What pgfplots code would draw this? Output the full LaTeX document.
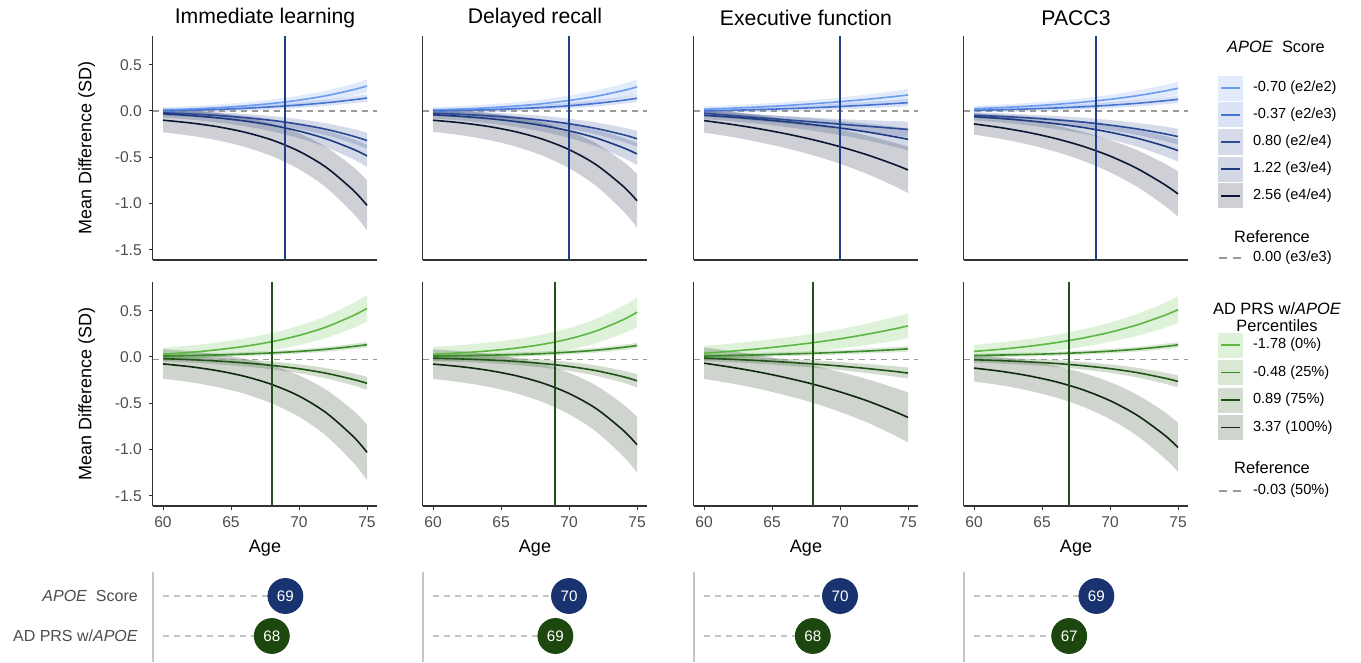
\documentclass[border=0pt]{standalone}
\usepackage{pgfplots}
\pgfplotsset{compat=1.18}
\usepackage{pgfplotstable}
\usepgfplotslibrary{fillbetween}
\usepackage{fontspec}
\setmainfont{Liberation Sans}

\definecolor{bA}{HTML}{6C9BF0}
\definecolor{bB}{HTML}{4672D2}
\definecolor{bC}{HTML}{2B4A93}
\definecolor{bD}{HTML}{1D3A80}
\definecolor{bE}{HTML}{0B1633}
\definecolor{gA}{HTML}{5CB842}
\definecolor{gB}{HTML}{3A8A2A}
\definecolor{gC}{HTML}{1F5416}
\definecolor{gD}{HTML}{0E290D}
\definecolor{vblue}{HTML}{1F3E8C}
\definecolor{vgreen}{HTML}{22521A}
\definecolor{dblue}{HTML}{18336F}
\definecolor{dgreen}{HTML}{1C470E}
\definecolor{ticktext}{HTML}{4D4D4D}
\definecolor{axisline}{HTML}{333333}
\definecolor{refgray}{HTML}{9A9A9A}
\definecolor{lgray}{HTML}{C4C4C4}

% APOE score: mean (m) and CI half-width (w) for each group
\pgfplotstableread{
age am aw bm bw cm cw dm dw em ew
60 0.010 0.030 0.000 0.025 -0.020 0.030 -0.030 0.040 -0.100 0.130
62 0.021 0.032 0.008 0.026 -0.032 0.033 -0.049 0.044 -0.129 0.138
64 0.035 0.035 0.017 0.027 -0.049 0.037 -0.074 0.050 -0.170 0.147
66 0.055 0.038 0.029 0.028 -0.072 0.041 -0.108 0.057 -0.229 0.159
68 0.081 0.043 0.045 0.030 -0.102 0.048 -0.154 0.066 -0.313 0.175
70 0.117 0.048 0.064 0.032 -0.143 0.055 -0.217 0.077 -0.435 0.194
72 0.165 0.056 0.089 0.035 -0.198 0.065 -0.301 0.091 -0.609 0.219
74 0.230 0.065 0.121 0.038 -0.273 0.078 -0.414 0.109 -0.858 0.251
75 0.270 0.070 0.140 0.040 -0.320 0.085 -0.485 0.120 -1.020 0.270
}\Tone
\pgfplotstableread{
age am aw bm bw cm cw dm dw em ew
60 0.010 0.030 0.000 0.025 -0.025 0.030 -0.040 0.040 -0.100 0.125
62 0.020 0.033 0.006 0.026 -0.036 0.033 -0.058 0.044 -0.127 0.134
64 0.034 0.036 0.013 0.027 -0.052 0.037 -0.081 0.050 -0.166 0.145
66 0.053 0.040 0.024 0.028 -0.072 0.041 -0.113 0.057 -0.222 0.159
68 0.078 0.046 0.037 0.030 -0.100 0.048 -0.156 0.066 -0.302 0.178
70 0.113 0.053 0.056 0.032 -0.138 0.055 -0.214 0.077 -0.417 0.201
72 0.159 0.062 0.082 0.035 -0.189 0.065 -0.292 0.091 -0.581 0.230
74 0.221 0.073 0.116 0.038 -0.257 0.078 -0.398 0.109 -0.816 0.268
75 0.260 0.080 0.137 0.040 -0.300 0.085 -0.464 0.120 -0.970 0.290
}\Ttwo
\pgfplotstableread{
age am aw bm bw cm cw dm dw em ew
60 0.018 0.030 0.000 0.025 -0.025 0.030 -0.047 0.040 -0.104 0.130
62 0.030 0.032 0.007 0.026 -0.048 0.033 -0.066 0.044 -0.144 0.136
64 0.043 0.034 0.015 0.027 -0.072 0.037 -0.089 0.050 -0.191 0.145
66 0.059 0.037 0.024 0.028 -0.095 0.041 -0.116 0.057 -0.246 0.155
68 0.078 0.041 0.035 0.030 -0.118 0.048 -0.147 0.066 -0.310 0.168
70 0.100 0.046 0.048 0.032 -0.142 0.055 -0.184 0.077 -0.386 0.185
72 0.126 0.052 0.063 0.035 -0.165 0.065 -0.227 0.091 -0.474 0.207
74 0.156 0.060 0.080 0.038 -0.188 0.078 -0.278 0.109 -0.578 0.234
75 0.173 0.065 0.090 0.040 -0.200 0.085 -0.306 0.120 -0.637 0.250
}\Tthree
\pgfplotstableread{
age am aw bm bw cm cw dm dw em ew
60 0.025 0.030 0.007 0.025 -0.047 0.030 -0.061 0.040 -0.140 0.115
62 0.037 0.032 0.013 0.026 -0.059 0.033 -0.081 0.044 -0.181 0.122
64 0.052 0.035 0.022 0.027 -0.075 0.037 -0.106 0.050 -0.232 0.131
66 0.071 0.038 0.032 0.028 -0.095 0.041 -0.138 0.057 -0.298 0.142
68 0.095 0.043 0.045 0.030 -0.120 0.048 -0.178 0.066 -0.381 0.156
70 0.126 0.048 0.062 0.032 -0.153 0.055 -0.230 0.077 -0.487 0.175
72 0.165 0.056 0.083 0.035 -0.194 0.065 -0.295 0.091 -0.622 0.198
74 0.215 0.065 0.110 0.038 -0.246 0.078 -0.378 0.109 -0.794 0.227
75 0.245 0.070 0.126 0.040 -0.277 0.085 -0.428 0.120 -0.896 0.245
}\Tfour
% AD PRS w/APOE percentiles
\pgfplotstableread{
age am aw bm bw cm cw dm dw
60 0.030 0.070 0.010 0.020 -0.018 0.030 -0.075 0.160
62 0.050 0.074 0.015 0.021 -0.029 0.032 -0.105 0.168
64 0.078 0.079 0.022 0.021 -0.044 0.035 -0.148 0.177
66 0.115 0.086 0.031 0.022 -0.064 0.038 -0.209 0.189
68 0.165 0.094 0.044 0.023 -0.091 0.043 -0.297 0.205
70 0.233 0.104 0.060 0.025 -0.127 0.048 -0.422 0.224
72 0.324 0.118 0.083 0.026 -0.176 0.056 -0.603 0.249
74 0.448 0.135 0.114 0.029 -0.243 0.065 -0.861 0.281
75 0.525 0.145 0.133 0.030 -0.284 0.070 -1.030 0.300
}\Bone
\pgfplotstableread{
age am aw bm bw cm cw dm dw
60 0.030 0.080 0.010 0.020 -0.013 0.030 -0.077 0.160
62 0.044 0.084 0.014 0.021 -0.021 0.032 -0.104 0.168
64 0.065 0.090 0.019 0.021 -0.032 0.035 -0.143 0.177
66 0.094 0.097 0.026 0.022 -0.047 0.038 -0.199 0.189
68 0.135 0.106 0.036 0.023 -0.070 0.043 -0.279 0.205
70 0.195 0.117 0.052 0.025 -0.102 0.048 -0.394 0.224
72 0.281 0.131 0.073 0.026 -0.148 0.056 -0.558 0.249
74 0.404 0.149 0.104 0.029 -0.214 0.065 -0.794 0.281
75 0.484 0.160 0.124 0.030 -0.257 0.070 -0.948 0.300
}\Btwo
\pgfplotstableread{
age am aw bm bw cm cw dm dw
60 0.040 0.080 0.010 0.020 -0.013 0.030 -0.067 0.170
62 0.062 0.083 0.016 0.021 -0.025 0.032 -0.111 0.175
64 0.088 0.087 0.023 0.021 -0.039 0.034 -0.162 0.182
66 0.119 0.091 0.031 0.022 -0.056 0.036 -0.223 0.191
68 0.154 0.098 0.040 0.023 -0.075 0.040 -0.293 0.202
70 0.196 0.105 0.051 0.025 -0.098 0.044 -0.377 0.216
72 0.246 0.115 0.064 0.026 -0.125 0.049 -0.474 0.234
74 0.303 0.128 0.079 0.029 -0.156 0.056 -0.589 0.256
75 0.336 0.135 0.088 0.030 -0.174 0.060 -0.653 0.270
}\Bthree
\pgfplotstableread{
age am aw bm bw cm cw dm dw
60 0.060 0.070 0.016 0.020 -0.030 0.030 -0.120 0.145
62 0.084 0.074 0.021 0.021 -0.040 0.032 -0.155 0.151
64 0.115 0.079 0.027 0.021 -0.053 0.034 -0.203 0.160
66 0.154 0.086 0.036 0.022 -0.070 0.037 -0.267 0.170
68 0.204 0.094 0.047 0.023 -0.094 0.041 -0.354 0.183
70 0.267 0.104 0.063 0.025 -0.126 0.046 -0.472 0.200
72 0.347 0.118 0.084 0.026 -0.169 0.052 -0.630 0.222
74 0.449 0.135 0.113 0.029 -0.228 0.060 -0.843 0.249
75 0.510 0.145 0.131 0.030 -0.264 0.065 -0.977 0.265
}\Bfour

\newcommand{\band}[4]{%
 \addplot[name path=#2u, draw=none, smooth, forget plot] table[x=age, y expr=\thisrow{#2}+\thisrow{#3}] {#1};
 \addplot[name path=#2l, draw=none, smooth, forget plot] table[x=age, y expr=\thisrow{#2}-\thisrow{#3}] {#1};
 \addplot[fill=#4, fill opacity=0.2, draw=none, forget plot] fill between[of=#2u and #2l];
}
\newcommand{\curve}[3]{\addplot[smooth, draw=#3, line width=0.8pt, forget plot] table[x=age, y=#2] {#1};}

\newcommand{\toppanel}[2]{%
 \band{#1}{am}{aw}{bA}\band{#1}{bm}{bw}{bB}\band{#1}{cm}{cw}{bC}\band{#1}{dm}{dw}{bD}\band{#1}{em}{ew}{bE}
 \addplot[refgray, dash pattern=on 3pt off 2.5pt, line width=0.7pt, forget plot] coordinates {(59.25,0) (75.75,0)};
 \curve{#1}{am}{bA}\curve{#1}{bm}{bB}\curve{#1}{cm}{bC}\curve{#1}{dm}{bD}\curve{#1}{em}{bE}
 \addplot[vblue, line width=1pt, forget plot] coordinates {(#2,-1.61) (#2,0.81)};
}
\newcommand{\botpanel}[2]{%
 \band{#1}{am}{aw}{gA}\band{#1}{bm}{bw}{gB}\band{#1}{cm}{cw}{gC}\band{#1}{dm}{dw}{gD}
 \addplot[refgray, dash pattern=on 3pt off 2.5pt, line width=0.7pt, forget plot] coordinates {(59.25,-0.03) (75.75,-0.03)};
 \curve{#1}{am}{gA}\curve{#1}{bm}{gB}\curve{#1}{cm}{gC}\curve{#1}{dm}{gD}
 \addplot[vgreen, line width=1pt, forget plot] coordinates {(#2,-1.61) (#2,0.81)};
}
\newcommand{\dotrow}[2]{%
 \addplot[lgray, dash pattern=on 3pt off 2.5pt, line width=0.7pt] coordinates {(60,2) (#1,2)};
 \addplot[lgray, dash pattern=on 3pt off 2.5pt, line width=0.7pt] coordinates {(60,1) (#2,1)};
 \addplot[only marks, mark=*, mark size=8.75pt, mark options={draw=dblue, fill=dblue}, nodes near coords, point meta=explicit symbolic,
   every node near coord/.append style={anchor=center, text=white, font=\fontsize{7.6}{9}\selectfont}] coordinates {(#1,2) [#1]};
 \addplot[only marks, mark=*, mark size=8.75pt, mark options={draw=dgreen, fill=dgreen}, nodes near coords, point meta=explicit symbolic,
   every node near coord/.append style={anchor=center, text=white, font=\fontsize{7.6}{9}\selectfont}] coordinates {(#2,1) [#2]};
}

\pgfplotsset{
 panel/.style={
  scale only axis, width=112.2pt, height=112pt,
  xmin=59.25, xmax=75.75, ymin=-1.61, ymax=0.81,
  axis x line*=bottom, axis y line*=left,
  axis line style={-, draw=axisline, line width=0.6pt},
  tick align=outside, major tick length=2pt,
  tick style={draw=axisline, line width=0.5pt},
  xtick=\empty, ytick=\empty,
  ticklabel style={font=\fontsize{7.8}{9}\selectfont, text=ticktext},
  every axis title/.style={at={(rel axis cs:0.5,1.08)}, anchor=center, font=\fontsize{10.6}{12}\selectfont},
  every axis y label/.style={at={(rel axis cs:-0.294,0.5)}, rotate=90, anchor=center, font=\fontsize{9}{10}\selectfont},
  every axis x label/.style={at={(rel axis cs:0.5,-0.1875)}, anchor=center, font=\fontsize{9}{10}\selectfont},
 },
 yt/.style={ytick={-1.5,-1,-0.5,0,0.5}, yticklabels={-1.5,-1.0,-0.5,0.0,0.5}, ylabel={Mean Difference (SD)}},
 xt/.style={xtick={60,65,70,75}, xticklabels={60,65,70,75}, xlabel={Age}},
 dotpanel/.style={scale only axis, width=112.2pt, height=45pt, xmin=59.25, xmax=75.75, ymin=0.35, ymax=2.6,
  axis x line=none, axis y line*=left, axis line style={-, draw=lgray, line width=0.7pt},
  xtick=\empty, ytick=\empty, clip=false, major tick length=0pt,
  yticklabel style={font=\fontsize{8}{9}\selectfont, text=ticktext, xshift=-4pt}},
 legax/.style={hide axis, scale only axis, width=1pt, height=1pt, xmin=0, xmax=1, ymin=0, ymax=1, anchor=north west,
  legend cell align=left,
  legend style={at={(0,1)}, anchor=north west, draw=none, fill=none, inner sep=0pt, outer sep=0pt,
   row sep=1pt, column sep=5pt, nodes={inner sep=0pt, font=\fontsize{7.3}{8.5}\selectfont}}},
 lkey/.style={legend image code/.code={\fill[#1, opacity=0.2, draw=none] (0pt,-6.25pt) rectangle (12.5pt,6.25pt); \draw[#1, line width=0.8pt] (1.5pt,0pt) -- (11pt,0pt);}},
 rkey/.style={legend image code/.code={\path[draw=none, fill=none] (0pt,-6.25pt) rectangle (12.5pt,6.25pt); \draw[refgray, line width=0.6pt, dash pattern=on 4pt off 3pt] (0.5pt,0pt) -- (11.5pt,0pt);}},
}

\begin{document}
\begin{tikzpicture}
\path (0pt,0pt) rectangle (680.5pt,-331.5pt);

% ---- top row
\begin{axis}[panel, yt, title={Immediate learning}, at={(76.4pt,-18pt)}, anchor=north west]
\toppanel{\Tone}{69}
\end{axis}
\begin{axis}[panel, title={Delayed recall}, at={(211.4pt,-18pt)}, anchor=north west]
\toppanel{\Ttwo}{70}
\end{axis}
\begin{axis}[panel, title={Executive function}, at={(346.9pt,-18pt)}, anchor=north west]
\toppanel{\Tthree}{70}
\end{axis}
\begin{axis}[panel, title={PACC3}, at={(481.9pt,-18pt)}, anchor=north west]
\toppanel{\Tfour}{69}
\end{axis}

% ---- bottom row
\begin{axis}[panel, yt, xt, at={(76.4pt,-141pt)}, anchor=north west]
\botpanel{\Bone}{68}
\end{axis}
\begin{axis}[panel, xt, at={(211.4pt,-141pt)}, anchor=north west]
\botpanel{\Btwo}{69}
\end{axis}
\begin{axis}[panel, xt, at={(346.9pt,-141pt)}, anchor=north west]
\botpanel{\Bthree}{68}
\end{axis}
\begin{axis}[panel, xt, at={(481.9pt,-141pt)}, anchor=north west]
\botpanel{\Bfour}{67}
\end{axis}

% ---- dot row
\begin{axis}[dotpanel, ytick={1,2}, yticklabels={AD PRS w/\textit{APOE}, \textit{APOE}\ \ Score}, at={(76.4pt,-286pt)}, anchor=north west]
\dotrow{69}{68}
\end{axis}
\begin{axis}[dotpanel, at={(211.4pt,-286pt)}, anchor=north west]
\dotrow{70}{69}
\end{axis}
\begin{axis}[dotpanel, at={(346.9pt,-286pt)}, anchor=north west]
\dotrow{70}{68}
\end{axis}
\begin{axis}[dotpanel, at={(481.9pt,-286pt)}, anchor=north west]
\dotrow{69}{67}
\end{axis}

% ---- legends
\node[font=\fontsize{8.2}{10}\selectfont] at (638pt,-23.5pt) {\textit{APOE}\ \ Score};
\begin{axis}[legax, at={(609pt,-37.75pt)}]
\addlegendimage{lkey=bA}\addlegendentry{-0.70 (e2/e2)}
\addlegendimage{lkey=bB}\addlegendentry{-0.37 (e2/e3)}
\addlegendimage{lkey=bC}\addlegendentry{0.80 (e2/e4)}
\addlegendimage{lkey=bD}\addlegendentry{1.22 (e3/e4)}
\addlegendimage{lkey=bE}\addlegendentry{2.56 (e4/e4)}
\end{axis}
\node[font=\fontsize{8.2}{10}\selectfont] at (636pt,-118.5pt) {Reference};
\begin{axis}[legax, at={(609pt,-122.75pt)}]
\addlegendimage{rkey}\addlegendentry{0.00 (e3/e3)}
\end{axis}

\node[font=\fontsize{8.2}{10}\selectfont] at (638.5pt,-154.5pt) {AD PRS w/\textit{APOE}};
\node[font=\fontsize{8.2}{10}\selectfont] at (638.5pt,-163pt) {Percentiles};
\begin{axis}[legax, at={(609pt,-166.25pt)}, legend style={row sep=1.25pt}]
\addlegendimage{lkey=gA}\addlegendentry{-1.78 (0\%)}
\addlegendimage{lkey=gB}\addlegendentry{-0.48 (25\%)}
\addlegendimage{lkey=gC}\addlegendentry{0.89 (75\%)}
\addlegendimage{lkey=gD}\addlegendentry{3.37 (100\%)}
\end{axis}
\node[font=\fontsize{8.2}{10}\selectfont] at (636pt,-234pt) {Reference};
\begin{axis}[legax, at={(609pt,-239.25pt)}]
\addlegendimage{rkey}\addlegendentry{-0.03 (50\%)}
\end{axis}
\end{tikzpicture}
\end{document}
